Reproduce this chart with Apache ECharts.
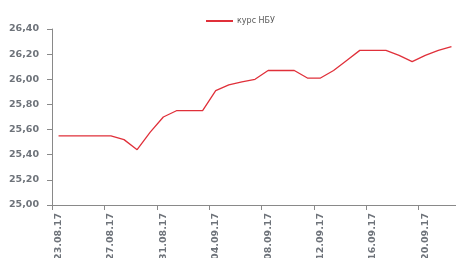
<!DOCTYPE html>
<html><head><meta charset="utf-8">
<script src="https://cdn.jsdelivr.net/npm/echarts@6/dist/echarts.min.js"></script>
<style>html,body{margin:0;padding:0;background:#fff}#c{width:456px;height:258px}</style>
</head><body><div id="c"></div>
<script>
const categories = ["23.08.17","24.08.17","25.08.17","26.08.17","27.08.17","28.08.17","29.08.17","30.08.17","31.08.17",
"01.09.17","02.09.17","03.09.17","04.09.17","05.09.17","06.09.17","07.09.17","08.09.17","09.09.17","10.09.17",
"11.09.17","12.09.17","13.09.17","14.09.17","15.09.17","16.09.17","17.09.17","18.09.17","19.09.17","20.09.17","21.09.17","22.09.17"];
const rateNBU = [25.55,25.55,25.55,25.55,25.55,25.52,25.44,25.58,25.70,
25.75,25.75,25.75,25.91,25.955,25.98,26.00,26.07,26.07,26.07,
26.01,26.01,26.07,26.15,26.23,26.23,26.23,26.19,26.14,26.19,26.23,26.26];
const seriesName = "курс НБУ";
const yMin = 25.0, yMax = 26.4, yStep = 0.2;

const chart = echarts.init(document.getElementById('c'), null, {renderer:'canvas'});
chart.setOption({
  animation:false,
  backgroundColor:'#fff',
  grid:{left:52,top:29,bottom:53,right:-2,containLabel:false,outerBoundsMode:'none'},
  legend:{
    data:[seriesName], left:200, top:12, itemWidth:27, itemHeight:2, itemGap:4,
    textStyle:{fontSize:8,color:'#595959',fontFamily:'DejaVu Sans',padding:[0,0,0,-1]}
  },
  xAxis:{
    type:'category', data:categories, boundaryGap:true,
    axisLine:{lineStyle:{color:'#898989',width:1}},
    axisTick:{show:true,interval:3,length:5,lineStyle:{color:'#898989'}},
    axisLabel:{interval:3,rotate:90,margin:8,fontSize:9.5,color:'#6e737a',fontFamily:'DejaVu Sans',fontWeight:'bold',hideOverlap:false},
    splitLine:{show:false}
  },
  yAxis:{
    type:'value', min:yMin, max:yMax, interval:yStep,
    axisLine:{show:true,lineStyle:{color:'#898989',width:1}},
    axisTick:{show:true,length:5,lineStyle:{color:'#898989'}},
    axisLabel:{margin:13,fontSize:9.5,color:'#6e737a',fontFamily:'DejaVu Sans',fontWeight:'bold',
      formatter:v=>v.toFixed(2).replace('.',',')},
    splitLine:{show:false}
  },
  series:[{
    name:seriesName, type:'line', data:rateNBU, symbol:'none', smooth:false,
    lineStyle:{color:'#E0303A',width:1.3}, itemStyle:{color:'#E0303A'}
  }]
});
</script></body></html>
